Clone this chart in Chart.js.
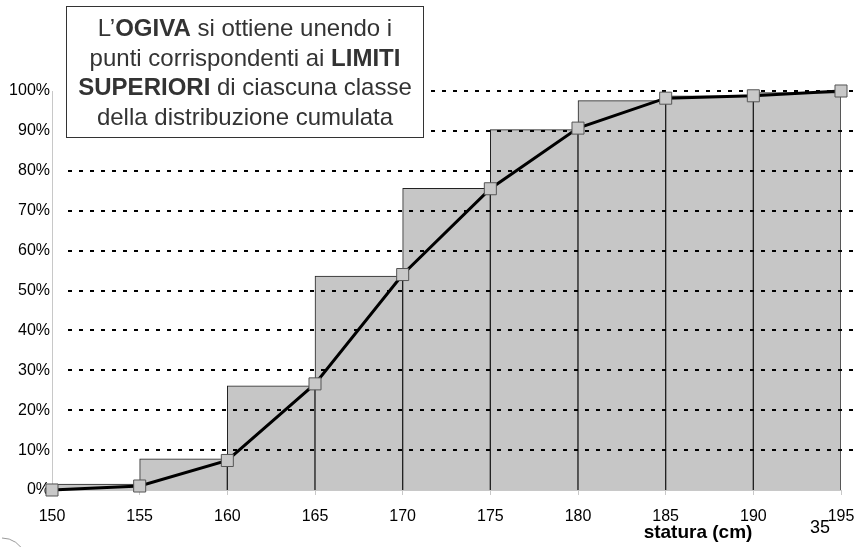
<!DOCTYPE html>
<html>
<head>
<meta charset="utf-8">
<script src="https://cdn.jsdelivr.net/npm/chart.js@4.4.1/dist/chart.umd.min.js"></script>
<style>
  html, body { margin: 0; padding: 0; background: #fff; }
  #wrap { width: 859px; height: 547px; }
</style>
</head>
<body>
<div id="wrap"><canvas id="ogiveChart" width="859" height="547"></canvas></div>
<script>
// class limits (cm) and cumulative percentages
const limits = [150, 155, 160, 165, 170, 175, 180, 185, 190, 195];
const classes = ['150-155', '155-160', '160-165', '165-170', '170-175', '175-180', '180-185', '185-190', '190-195'];
const classCumPct = [1.5, 7.8, 26.1, 53.6, 75.6, 90.3, 97.6, 98.8, 99.6];
const ogivePct = [0, 1.0, 7.4, 26.6, 54.0, 75.5, 90.7, 98.2, 98.8, 100];
const yTicks = [0, 10, 20, 30, 40, 50, 60, 70, 80, 90, 100];

const xTitle = 'statura (cm)';
const pageNumber = '35';
// note box text, [text, bold]
const noteLines = [
    [['L\u2019', false], ['OGIVA', true], [' si ottiene unendo i', false]],
    [['punti corrispondenti ai ', false], ['LIMITI', true]],
    [['SUPERIORI', true], [' di ciascuna classe', false]],
    [['della distribuzione cumulata', false]]
];

const FONT = "'Liberation Sans', Arial, sans-serif";

const decor = {
    id: 'decor',
    afterDatasetDraw(chart, args) {
        if (args.meta.type !== 'bar') return;
        // dotted horizontal grid, drawn over the bars
        const ctx = chart.ctx;
        const area = chart.chartArea;
        const y = chart.scales.y;
        ctx.save();
        ctx.strokeStyle = '#000';
        ctx.lineWidth = 2;
        ctx.setLineDash([4, 7]);
        yTicks.forEach(v => {
            if (v === 0) return;
            const py = Math.round(y.getPixelForValue(v));
            ctx.beginPath();
            ctx.moveTo(area.left + 16, py);
            ctx.lineTo(area.right + 12, py);
            ctx.stroke();
        });
        ctx.restore();
    },
    afterDraw(chart) {
        const ctx = chart.ctx;
        ctx.save();

        // note box
        ctx.fillStyle = '#fff';
        ctx.fillRect(66, 6, 357, 131);
        ctx.strokeStyle = '#333';
        ctx.lineWidth = 1;
        ctx.strokeRect(66.5, 6.5, 357, 131);

        ctx.fillStyle = '#333';
        ctx.textBaseline = 'alphabetic';
        ctx.textAlign = 'left';
        noteLines.forEach((line, i) => {
            let total = 0;
            line.forEach(([t, b]) => {
                ctx.font = (b ? 'bold ' : '') + '24px ' + FONT;
                total += ctx.measureText(t).width;
            });
            let x = 245 - total / 2;
            const by = 36 + i * 29.7;
            line.forEach(([t, b]) => {
                ctx.font = (b ? 'bold ' : '') + '24px ' + FONT;
                ctx.fillText(t, x, by);
                x += ctx.measureText(t).width;
            });
        });

        // axis title and page number
        ctx.fillStyle = '#000';
        ctx.font = 'bold 19px ' + FONT;
        ctx.textAlign = 'center';
        ctx.fillText(xTitle, 698, 538);
        ctx.font = '18px ' + FONT;
        ctx.textAlign = 'left';
        ctx.fillText(pageNumber, 810, 533);

        // little page decoration bottom left
        ctx.strokeStyle = '#999';
        ctx.lineWidth = 1;
        ctx.beginPath();
        ctx.arc(2, 562, 24, -Math.PI / 2, -0.35);
        ctx.stroke();

        ctx.restore();
    }
};

const ctx = document.getElementById('ogiveChart').getContext('2d');

const ogiveChart = new Chart(ctx, {
    type: 'bar',
    data: {
        labels: classes,
        datasets: [
            {
                type: 'line',
                label: 'Ogiva',
                data: limits.map((x, i) => ({ x: x, y: ogivePct[i] })),
                xAxisID: 'x',
                yAxisID: 'y',
                borderColor: '#000',
                borderWidth: 3,
                tension: 0,
                pointStyle: 'rect',
                pointRadius: 8.5,
                pointBackgroundColor: '#c8c8c8',
                pointBorderColor: '#555',
                pointBorderWidth: 1,
                clip: false,
                order: 1
            },
            {
                type: 'bar',
                label: 'Distribuzione cumulata',
                data: classCumPct,
                xAxisID: 'xc',
                yAxisID: 'y',
                grouped: false, // one full-width column per class
                backgroundColor: '#c6c6c6',
                borderColor: '#222',
                borderWidth: 1,
                barPercentage: 1,
                categoryPercentage: 1,
                order: 2
            }
        ]
    },
    options: {
        responsive: false,
        animation: false,
        layout: { padding: { top: 91, right: 18, left: 0, bottom: 0 } },
        plugins: {
            legend: { display: false },
            tooltip: { enabled: false }
        },
        scales: {
            x: {
                type: 'linear',
                position: 'bottom',
                offset: false,
                min: 150,
                max: 195,
                ticks: {
                    stepSize: 5,
                    color: '#000',
                    font: { family: FONT, size: 16 },
                    padding: 12
                },
                grid: { offset: false, drawOnChartArea: false, drawTicks: true, tickLength: 5, color: '#c8c8c8' },
                border: { color: '#c8c8c8' },
                afterFit: s => {
                    s.height = 57;
                    s.paddingLeft = 0;
                    s.paddingRight = 0;
                }
            },
            xc: {
                type: 'category',
                display: false,
                offset: true
            },
            y: {
                min: 0,
                max: 100,
                ticks: {
                    stepSize: 10,
                    color: '#000',
                    font: { family: FONT, size: 16 },
                    padding: 2,
                    callback: v => v + '%'
                },
                grid: { display: false, drawTicks: false },
                border: { display: true, color: '#c8c8c8' },
                afterFit: s => { s.width = 52; }
            }
        }
    },
    plugins: [decor]
});
</script>
</body>
</html>
